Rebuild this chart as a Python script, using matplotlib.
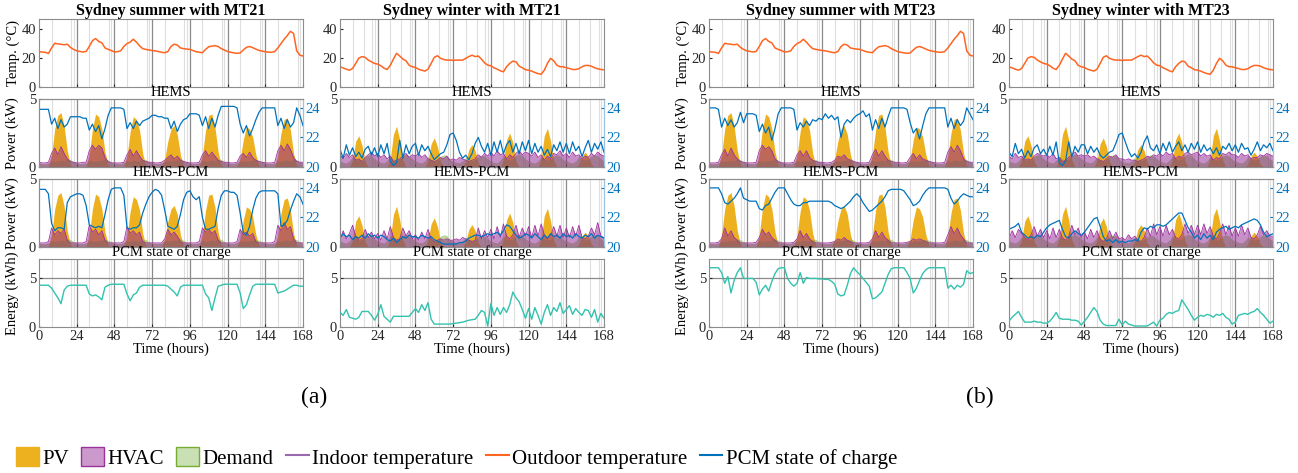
import numpy as np
import matplotlib
matplotlib.use('Agg')
import matplotlib.pyplot as plt
from matplotlib.patches import Patch
from matplotlib.lines import Line2D

plt.rcParams['font.family'] = ['Liberation Serif', 'DejaVu Serif']

# time grid (hours), one value every 2 hours
hours = np.arange(0, 169, 2)

# outdoor temperature (degC)
temp_summer = [
    24.4, 24.2, 24.0, 23.2, 27.0, 30.2, 29.8, 29.5, 29.2, 29.6, 27.4, 26.0,
    25.0, 24.6, 24.2, 24.6, 28.0, 32.0, 33.5, 31.5, 30.5, 27.0, 26.0, 25.2,
    24.2, 24.4, 25.0, 28.0, 30.0, 31.0, 33.0, 31.0, 28.5, 26.5, 26.0, 25.6,
    25.2, 25.0, 24.5, 24.0, 23.7, 24.5, 28.0, 29.6, 29.0, 27.0, 26.5, 26.2,
    26.0, 25.2, 24.4, 24.0, 23.7, 26.0, 27.8, 28.2, 28.6, 28.0, 26.5, 25.5,
    24.5, 24.0, 23.6, 23.3, 23.5, 25.6, 27.4, 28.0, 27.2, 26.2, 25.3, 24.8,
    24.4, 24.1, 24.0, 24.5, 27.0, 30.0, 33.0, 35.5, 38.5, 37.0, 25.0, 22.0,
    21.4]
temp_winter = [
    14.0, 13.2, 12.3, 11.6, 12.8, 16.3, 20.0, 21.0, 20.5, 18.6, 17.4, 16.3,
    15.8, 14.7, 13.0, 12.1, 15.0, 19.3, 23.3, 21.4, 19.3, 18.1, 15.0, 14.0,
    13.5, 12.3, 11.6, 11.0, 12.3, 16.3, 20.5, 21.6, 19.8, 19.0, 18.6, 18.6,
    18.4, 18.6, 18.6, 18.6, 19.8, 21.0, 22.0, 21.0, 21.4, 19.3, 16.7, 15.1,
    14.7, 13.3, 12.3, 11.2, 10.5, 14.0, 16.3, 17.9, 17.4, 14.4, 13.3, 12.0,
    11.6, 11.0, 10.0, 9.3, 8.8, 11.6, 16.3, 19.8, 18.1, 15.1, 14.0, 14.0,
    13.3, 12.8, 12.1, 12.1, 12.6, 14.0, 14.9, 14.9, 14.4, 13.3, 12.6, 12.1,
    11.9]

# PV generation (kW)
pv_summer = [
    0, 0, 0, 0.05, 0.9, 2.8, 3.8, 4.0, 3.0, 1.2, 0.15, 0,
    0, 0, 0, 0.05, 0.9, 2.8, 3.9, 3.7, 2.8, 1.1, 0.15, 0,
    0, 0, 0, 0.05, 0.8, 2.6, 3.7, 3.5, 2.7, 1.0, 0.1, 0,
    0, 0, 0, 0.05, 0.6, 1.9, 2.8, 3.05, 2.4, 0.9, 0.1, 0,
    0, 0, 0, 0.05, 0.9, 2.7, 3.8, 3.9, 2.9, 1.1, 0.15, 0,
    0, 0, 0, 0.05, 0.6, 2.0, 2.95, 2.8, 2.2, 0.9, 0.1, 0,
    0, 0, 0, 0.05, 0.8, 2.5, 3.5, 3.6, 2.7, 1.0, 0.1, 0,
    0]
pv_winter = [
    0, 0, 0, 0, 0.5, 1.9, 2.3, 1.6, 0.4, 0, 0, 0,
    0, 0, 0, 0, 0.6, 2.4, 3.0, 2.0, 0.5, 0, 0, 0,
    0, 0, 0, 0, 0.5, 1.7, 2.15, 1.5, 0.4, 0, 0, 0,
    0, 0, 0, 0, 0.4, 1.3, 1.65, 1.2, 0.3, 0, 0, 0,
    0, 0, 0, 0, 0.5, 2.0, 2.5, 1.8, 0.4, 0, 0, 0,
    0, 0, 0, 0, 0.6, 2.3, 2.85, 1.9, 0.5, 0, 0, 0,
    0, 0, 0, 0, 0.2, 0.8, 1.1, 0.8, 0.2, 0, 0, 0,
    0]

# household demand (kW)
demand_summer = [
    0.30, 0.25, 0.25, 0.30, 0.45, 0.40, 0.45, 0.50, 0.45, 0.60, 0.55, 0.40,
    0.30, 0.25, 0.25, 0.30, 0.50, 0.40, 0.45, 0.45, 0.50, 0.60, 0.50, 0.40,
    0.30, 0.25, 0.25, 0.35, 0.45, 0.40, 0.50, 0.45, 0.45, 0.55, 0.55, 0.40,
    0.30, 0.25, 0.25, 0.30, 0.45, 0.45, 0.45, 0.50, 0.50, 0.60, 0.50, 0.35,
    0.30, 0.25, 0.25, 0.30, 0.50, 0.40, 0.45, 0.50, 0.45, 0.60, 0.55, 0.40,
    0.30, 0.25, 0.25, 0.35, 0.45, 0.40, 0.45, 0.45, 0.50, 0.55, 0.50, 0.40,
    0.30, 0.25, 0.25, 0.30, 0.45, 0.40, 0.50, 0.50, 0.45, 0.60, 0.55, 0.40,
    0.30]
demand_winter = [
    0.45, 0.35, 0.30, 0.45, 0.75, 0.60, 0.50, 0.55, 0.80, 0.90, 0.85, 0.60,
    0.45, 0.35, 0.30, 0.50, 0.80, 0.60, 0.50, 0.60, 0.85, 0.95, 0.80, 0.60,
    0.45, 0.35, 0.30, 0.45, 0.75, 0.55, 0.50, 0.55, 0.80, 0.90, 0.85, 0.55,
    0.40, 0.35, 0.30, 0.45, 0.70, 0.60, 0.50, 0.55, 0.75, 0.90, 0.80, 0.60,
    0.45, 0.35, 0.30, 0.50, 0.80, 0.60, 0.50, 0.60, 0.85, 0.95, 0.85, 0.60,
    0.45, 0.35, 0.30, 0.45, 0.75, 0.60, 0.50, 0.55, 0.80, 0.90, 0.80, 0.55,
    0.45, 0.35, 0.30, 0.45, 0.75, 0.60, 0.50, 0.55, 0.80, 0.90, 0.85, 0.60,
    0.45]

# HVAC power (kW)
hvac_s21_hems = [
    0.35, 0.3, 0.3, 0.35, 1.0, 1.4, 0.9, 1.5, 1.0, 0.6, 0.4, 0.35,
    0.3, 0.3, 0.35, 0.35, 1.2, 1.6, 1.3, 1.6, 1.4, 0.7, 0.4, 0.3,
    0.3, 0.3, 0.3, 0.35, 0.9, 1.3, 0.8, 1.2, 0.8, 0.5, 0.4, 0.35,
    0.35, 0.3, 0.3, 0.35, 0.5, 0.7, 0.9, 0.6, 0.8, 0.5, 0.4, 0.35,
    0.3, 0.3, 0.3, 0.35, 0.9, 1.2, 0.8, 1.1, 0.8, 0.5, 0.4, 0.35,
    0.35, 0.3, 0.3, 0.35, 0.8, 1.0, 0.7, 1.1, 0.7, 0.5, 0.4, 0.35,
    0.3, 0.3, 0.3, 0.35, 1.2, 1.6, 1.2, 1.7, 1.3, 0.7, 0.4, 0.35,
    0.35]
hvac_s21_pcm = [
    0.3, 0.3, 0.3, 0.4, 1.4, 0.9, 1.2, 1.0, 1.3, 0.5, 0.3, 0.3,
    0.3, 0.3, 0.3, 0.4, 1.6, 1.1, 1.3, 0.9, 1.2, 0.5, 0.3, 0.3,
    0.3, 0.3, 0.3, 0.4, 1.5, 1.0, 1.2, 0.9, 1.1, 0.4, 0.3, 0.3,
    0.3, 0.3, 0.3, 0.3, 0.6, 1.3, 0.9, 1.1, 0.8, 0.4, 0.3, 0.3,
    0.3, 0.3, 0.3, 0.4, 1.4, 1.1, 1.3, 1.0, 1.2, 0.5, 0.3, 0.3,
    0.3, 0.3, 0.3, 0.4, 1.3, 0.9, 1.1, 0.8, 1.0, 0.4, 0.3, 0.3,
    0.3, 0.3, 0.3, 0.4, 1.6, 1.2, 1.8, 1.3, 1.5, 0.6, 0.3, 0.3,
    0.3]
hvac_w21_hems = [
    0.9, 0.6, 1.0, 0.7, 0.9, 0.5, 0.6, 0.4, 0.7, 0.9, 1.1, 0.8,
    1.0, 0.7, 0.9, 0.6, 0.8, 0.4, 0.5, 0.6, 0.8, 1.0, 0.7, 0.9,
    0.8, 1.0, 0.7, 0.9, 0.6, 0.5, 0.4, 0.5, 0.7, 0.6, 0.8, 0.5,
    0.6, 0.5, 0.7, 0.6, 0.5, 0.4, 0.5, 0.6, 0.9, 0.7, 1.0, 0.8,
    1.1, 0.8, 1.2, 0.9, 1.0, 0.6, 0.9, 0.7, 1.0, 1.2, 0.9, 1.1,
    1.0, 0.8, 1.1, 0.7, 0.9, 0.5, 0.8, 0.6, 1.0, 0.9, 1.2, 0.8,
    1.0, 0.7, 1.1, 0.8, 0.9, 0.6, 0.8, 0.7, 1.0, 0.8, 1.1, 0.9,
    0.8]
hvac_w21_pcm = [
    0.5, 1.2, 0.6, 1.0, 1.6, 0.8, 0.5, 0.6, 1.3, 0.7, 1.1, 0.6,
    1.0, 0.5, 1.2, 0.6, 1.5, 0.7, 0.5, 0.6, 1.4, 0.8, 1.2, 0.6,
    0.9, 0.5, 1.1, 0.6, 1.3, 0.6, 0.4, 0.5, 0.6, 0.5, 0.6, 0.5,
    0.5, 0.6, 0.5, 0.7, 0.6, 0.5, 0.4, 0.5, 1.4, 0.6, 1.2, 0.7,
    1.3, 0.6, 1.5, 0.7, 1.7, 0.8, 0.6, 0.9, 1.6, 0.7, 1.4, 0.8,
    1.5, 0.7, 1.6, 0.8, 1.7, 0.9, 0.6, 0.8, 1.5, 0.8, 1.6, 0.7,
    1.4, 0.7, 1.5, 0.8, 1.6, 0.7, 0.6, 0.8, 1.4, 0.9, 1.8, 0.8,
    0.7]
hvac_s23_hems = [
    0.3, 0.3, 0.3, 0.35, 0.9, 1.3, 0.8, 1.4, 0.9, 0.6, 0.4, 0.35,
    0.3, 0.3, 0.3, 0.35, 1.2, 1.6, 1.3, 1.5, 1.2, 0.6, 0.4, 0.3,
    0.3, 0.3, 0.3, 0.35, 0.9, 1.2, 0.8, 1.2, 0.7, 0.5, 0.4, 0.35,
    0.35, 0.3, 0.3, 0.35, 0.5, 0.8, 0.7, 0.9, 0.6, 0.5, 0.4, 0.35,
    0.3, 0.3, 0.3, 0.35, 0.9, 1.3, 0.8, 1.2, 0.8, 0.5, 0.4, 0.35,
    0.35, 0.3, 0.3, 0.35, 0.7, 1.0, 0.6, 0.9, 0.6, 0.5, 0.4, 0.35,
    0.3, 0.3, 0.3, 0.35, 1.1, 1.5, 1.1, 1.6, 1.2, 0.6, 0.4, 0.35,
    0.35]
hvac_s23_pcm = [
    0.3, 0.3, 0.3, 0.35, 0.6, 1.4, 0.8, 1.2, 0.7, 0.5, 0.3, 0.3,
    0.3, 0.3, 0.3, 0.35, 0.7, 1.3, 0.9, 1.1, 0.7, 0.5, 0.3, 0.3,
    0.3, 0.3, 0.3, 0.35, 0.6, 1.2, 0.7, 1.0, 0.6, 0.4, 0.3, 0.3,
    0.3, 0.3, 0.3, 0.35, 0.4, 0.6, 0.5, 0.7, 0.5, 0.4, 0.3, 0.3,
    0.3, 0.3, 0.3, 0.35, 0.6, 1.2, 0.7, 1.1, 0.7, 0.5, 0.3, 0.3,
    0.3, 0.3, 0.3, 0.35, 0.4, 0.6, 0.5, 0.6, 0.5, 0.4, 0.3, 0.3,
    0.3, 0.3, 0.3, 0.35, 0.9, 1.5, 1.0, 1.4, 0.9, 0.6, 0.3, 0.3,
    0.3]
hvac_w23_hems = [
    0.8, 0.6, 1.0, 0.7, 0.8, 0.5, 0.6, 0.5, 0.8, 1.0, 0.9, 0.8,
    0.9, 0.7, 1.0, 0.6, 0.7, 0.4, 0.5, 0.7, 0.9, 1.1, 0.8, 0.9,
    0.8, 0.9, 0.7, 0.8, 0.6, 0.5, 0.4, 0.6, 0.8, 0.7, 0.9, 0.6,
    0.6, 0.5, 0.6, 0.5, 0.5, 0.4, 0.5, 0.6, 0.8, 0.7, 0.9, 0.8,
    1.0, 0.8, 1.1, 0.9, 1.0, 0.6, 0.8, 0.7, 1.0, 1.1, 0.9, 1.0,
    1.1, 0.8, 1.0, 0.8, 0.9, 0.5, 0.7, 0.6, 1.0, 0.9, 1.1, 0.9,
    0.9, 0.7, 1.0, 0.8, 0.9, 0.6, 0.7, 0.7, 0.9, 0.8, 1.0, 0.9,
    0.8]
hvac_w23_pcm = [
    0.6, 1.2, 0.7, 1.3, 1.0, 0.7, 0.5, 0.9, 1.5, 0.8, 1.3, 0.7,
    1.2, 0.6, 1.4, 0.7, 1.3, 0.7, 0.5, 0.8, 1.6, 0.9, 1.4, 0.7,
    1.1, 0.6, 1.3, 0.7, 1.2, 0.6, 0.4, 0.6, 1.2, 0.6, 1.1, 0.6,
    0.7, 0.5, 0.9, 0.6, 0.8, 0.5, 0.4, 0.7, 1.4, 0.8, 1.7, 0.9,
    1.5, 0.8, 1.6, 0.9, 1.3, 0.7, 0.6, 0.9, 1.7, 1.0, 1.6, 0.9,
    1.6, 0.9, 1.7, 1.0, 1.5, 0.8, 0.6, 1.0, 1.7, 0.9, 1.6, 0.8,
    1.4, 0.8, 1.6, 0.9, 1.4, 0.7, 0.6, 0.9, 1.5, 0.9, 1.2, 0.8,
    0.8]

# indoor temperature (degC, right axis)
tin_s21_hems = [
    23.9, 23.9, 23.9, 23.9, 22.9, 23.3, 22.6, 23.2, 22.7, 22.9, 23.4, 23.4,
    23.4, 23.4, 23.3, 23.3, 22.5, 22.9, 22.4, 22.8, 21.9, 22.6, 23.5, 24.0,
    24.0, 24.0, 24.0, 23.9, 22.6, 23.0, 22.6, 23.1, 22.8, 23.1, 23.2, 23.3,
    23.5, 23.5, 23.4, 23.4, 23.3, 23.3, 22.6, 23.1, 22.4, 22.9, 23.2, 23.3,
    23.6, 23.6, 23.6, 23.5, 22.8, 23.4, 22.6, 23.3, 22.7, 23.5, 24.1, 24.1,
    24.1, 24.1, 24.1, 24.0, 22.9, 22.3, 22.8, 22.1, 22.6, 23.2, 23.7, 24.0,
    24.0, 24.0, 24.0, 24.0, 22.8, 23.3, 22.6, 23.2, 22.7, 23.0, 24.0, 23.5,
    22.8]
tin_s21_pcm = [
    23.9, 23.9, 23.9, 23.6, 21.6, 21.1, 21.3, 21.3, 21.2, 23.0, 23.4, 23.5,
    23.6, 23.6, 23.5, 22.8, 21.5, 21.4, 21.3, 21.4, 21.3, 22.2, 23.2, 23.9,
    24.0, 24.0, 24.0, 23.5, 21.3, 21.2, 21.3, 21.3, 21.5, 22.3, 22.9, 23.4,
    23.7, 23.9, 23.8, 23.5, 22.5, 21.4, 21.3, 21.2, 21.4, 22.2, 23.2, 23.7,
    23.8, 23.4, 23.2, 23.4, 22.0, 21.2, 21.2, 21.3, 21.4, 22.6, 23.5, 23.8,
    23.8, 23.7, 23.7, 23.5, 22.3, 21.0, 20.8, 21.4, 22.5, 23.3, 23.7, 23.8,
    23.8, 23.8, 23.8, 23.8, 23.6, 21.4, 21.5, 21.8, 22.5, 23.1, 23.6, 23.4,
    22.9]
tin_w21_hems = [
    21.2, 20.6, 21.5, 20.8, 21.3, 20.7, 21.0, 20.6, 21.2, 21.4, 20.8, 21.3,
    20.7, 21.5, 20.9, 21.6, 20.4, 20.1, 20.3, 21.8, 20.6, 21.5, 20.9, 21.4,
    21.6, 20.8, 21.5, 21.1, 21.4, 20.9, 20.5, 20.7, 20.9, 21.0, 21.5, 22.2,
    22.3, 21.8, 21.0, 20.6, 20.8, 20.5, 20.9, 21.6, 22.0, 21.4, 21.0, 21.6,
    20.8, 21.7, 21.0, 21.8, 20.9, 21.5, 21.8, 21.0, 21.6, 20.9, 21.7, 21.1,
    21.8, 20.9, 21.6, 21.0, 21.4, 20.8, 21.2, 20.7, 21.5, 21.1, 21.7, 21.0,
    21.6, 20.9, 21.7, 21.1, 21.4, 20.7, 21.3, 21.8, 21.0, 21.6, 21.2, 21.7,
    21.0]
tin_w21_pcm = [
    20.6, 20.9, 20.7, 20.8, 20.5, 20.7, 20.6, 20.8, 20.6, 20.9, 20.7, 20.8,
    20.6, 20.8, 20.7, 20.5, 20.4, 20.6, 20.3, 20.5, 20.7, 20.6, 20.8, 20.7,
    20.7, 20.6, 20.8, 20.7, 20.6, 20.7, 20.5, 20.4, 20.3, 20.2, 20.2, 20.2,
    20.2, 20.2, 20.3, 20.3, 20.4, 20.6, 20.7, 20.8, 20.8, 20.7, 20.8, 20.9,
    20.8, 20.9, 21.0, 20.8, 21.1, 21.5, 21.4, 21.1, 20.8, 20.6, 20.7, 20.9,
    20.8, 20.6, 20.9, 20.7, 20.5, 20.8, 20.6, 20.9, 20.7, 20.8, 20.6, 20.9,
    20.7, 20.8, 20.6, 20.9, 20.7, 20.6, 20.8, 20.7, 20.9, 20.6, 20.8, 20.7,
    20.6]
tin_s23_hems = [
    24.0, 24.0, 24.0, 23.9, 22.7, 23.3, 22.8, 23.2, 22.7, 23.0, 23.7, 23.0,
    23.6, 23.6, 23.6, 23.5, 22.4, 22.9, 22.3, 22.7, 21.8, 22.6, 23.6, 24.0,
    24.0, 24.0, 24.0, 23.9, 22.5, 23.0, 22.7, 23.1, 22.8, 23.2, 23.1, 23.3,
    23.2, 23.6, 23.3, 23.5, 23.2, 23.4, 22.0, 22.9, 23.2, 23.0, 23.3, 23.5,
    23.6, 23.8, 23.4, 23.6, 22.5, 23.2, 22.6, 23.3, 22.7, 23.4, 24.0, 24.0,
    24.0, 24.0, 24.0, 23.9, 23.0, 22.3, 22.6, 21.9, 22.8, 23.6, 24.0, 24.0,
    24.0, 24.0, 24.0, 24.0, 22.7, 23.3, 22.6, 23.2, 22.8, 23.1, 24.0, 23.6,
    23.2]
tin_s23_pcm = [
    24.0, 24.0, 24.0, 24.0, 23.6, 23.0, 22.9, 23.1, 23.3, 23.6, 24.0, 23.3,
    23.2, 23.1, 23.1, 23.1, 22.6, 22.5, 22.8, 22.9, 23.3, 23.7, 24.0, 24.0,
    24.0, 23.6, 23.2, 22.9, 22.8, 22.8, 23.0, 23.0, 23.1, 23.1, 23.1, 23.1,
    23.1, 23.1, 23.1, 23.0, 22.8, 22.7, 22.6, 22.7, 22.9, 23.1, 23.4, 23.6,
    23.4, 23.0, 22.7, 22.4, 22.5, 22.7, 22.9, 23.1, 23.4, 23.8, 23.9, 23.9,
    23.9, 23.9, 23.8, 23.5, 23.2, 22.8, 22.9, 23.1, 23.5, 23.8, 24.0, 24.0,
    24.0, 24.0, 24.0, 24.0, 23.9, 23.3, 22.9, 23.1, 23.4, 23.6, 23.5, 23.4,
    23.4]
tin_w23_hems = [
    21.0, 20.7, 21.6, 20.9, 21.2, 20.6, 21.1, 20.7, 21.3, 21.5, 20.9, 21.2,
    20.8, 21.4, 20.8, 21.7, 20.3, 20.1, 20.4, 21.7, 20.7, 21.4, 21.0, 21.5,
    21.5, 20.9, 21.4, 21.0, 21.3, 20.8, 20.6, 20.8, 21.0, 21.1, 21.6, 22.2,
    22.3, 21.7, 21.1, 20.7, 20.9, 20.6, 21.0, 21.7, 22.1, 21.3, 21.1, 21.5,
    20.9, 21.6, 21.1, 21.7, 21.0, 21.4, 21.7, 21.1, 21.5, 21.0, 21.6, 21.2,
    21.7, 21.0, 21.5, 21.1, 21.3, 20.9, 21.3, 20.8, 21.4, 21.2, 21.6, 21.1,
    21.5, 21.0, 21.6, 21.2, 21.3, 20.8, 21.2, 21.7, 21.1, 21.5, 21.3, 21.6,
    21.1]
tin_w23_pcm = [
    21.2, 21.3, 21.4, 21.6, 21.0, 20.8, 20.6, 20.7, 20.6, 20.8, 20.7, 21.0,
    21.3, 21.5, 21.6, 21.7, 21.8, 21.2, 20.7, 20.6, 20.9, 21.1, 20.9, 20.8,
    21.0, 21.3, 21.6, 21.9, 22.0, 21.4, 20.7, 20.4, 20.5, 20.3, 20.5, 20.3,
    20.4, 20.3, 20.4, 20.4, 20.5, 20.4, 21.0, 21.3, 21.2, 21.4, 21.3, 21.5,
    21.5, 21.4, 21.5, 21.7, 21.9, 22.1, 22.3, 22.3, 21.8, 21.3, 21.0, 20.6,
    20.8, 20.5, 20.9, 20.6, 20.8, 20.5, 21.0, 21.2, 21.3, 21.4, 21.2, 21.3,
    21.4, 21.3, 21.5, 21.6, 21.7, 21.8, 21.9, 21.8, 21.5, 21.0, 20.7, 20.8,
    20.9]

# PCM state of charge (kWh)
soc_s21 = [
    4.3, 4.3, 4.3, 4.3, 4.0, 3.5, 3.0, 2.4, 3.8, 4.2, 4.3, 4.3,
    4.3, 4.3, 4.3, 4.3, 3.4, 3.2, 3.3, 3.1, 2.8, 4.1, 4.3, 4.4,
    4.4, 4.4, 4.4, 4.4, 3.4, 2.7, 3.3, 3.5, 4.1, 4.3, 4.3, 4.3,
    4.3, 4.3, 4.3, 4.3, 4.3, 4.2, 3.9, 3.6, 3.2, 4.1, 4.3, 4.3,
    4.3, 4.3, 4.3, 4.3, 4.3, 3.4, 3.0, 1.7, 3.0, 4.2, 4.3, 4.4,
    4.4, 4.4, 4.4, 4.4, 3.5, 1.9, 2.3, 3.3, 4.2, 4.4, 4.4, 4.4,
    4.4, 4.4, 4.4, 4.4, 3.5, 3.6, 3.7, 3.9, 4.1, 4.3, 4.3, 4.2,
    4.2]
soc_w21 = [
    1.5, 1.2, 1.8, 1.0, 0.9, 0.8, 1.0, 1.6, 1.6, 1.6, 1.2, 0.7,
    1.3, 2.3, 1.1, 0.8, 0.5, 1.1, 1.1, 1.1, 1.1, 1.1, 1.1, 1.5,
    1.9, 1.5, 2.3, 1.7, 2.5, 0.8, 0.3, 0.3, 0.3, 0.3, 0.3, 0.3,
    0.35, 0.4, 0.45, 0.5, 0.6, 0.7, 0.75, 0.8, 1.2, 1.7, 1.5, 0.1,
    2.4, 1.2, 2.0, 1.3, 2.0, 1.5, 2.3, 3.6, 3.0, 2.6, 1.8, 0.9,
    1.9, 0.8, 2.0, 1.2, 0.3, 1.5, 2.3, 1.2, 2.0, 1.6, 2.5, 1.4,
    1.8, 2.2, 1.3, 1.9, 1.5, 1.2, 1.8, 1.7, 1.0, 1.8, 0.5, 1.4,
    0.9]
soc_s23 = [
    6.1, 6.1, 6.1, 6.1, 5.6, 4.5, 5.2, 3.5, 4.8, 5.6, 6.1, 5.0,
    5.0, 5.0, 5.0, 4.6, 3.3, 3.9, 4.3, 3.7, 4.7, 5.5, 6.0, 6.1,
    6.1, 5.0, 4.5, 4.2, 4.5, 5.6, 4.5, 5.1, 5.0, 5.0, 5.0, 4.95,
    4.95, 4.9, 4.9, 4.7, 4.4, 3.4, 3.2, 3.3, 4.3, 5.5, 6.1, 5.7,
    5.4, 5.0, 4.6, 4.2, 2.9, 3.0, 3.3, 3.6, 4.5, 5.4, 6.0, 6.1,
    6.1, 6.1, 6.1, 5.6, 5.0, 3.5, 4.0, 4.8, 5.5, 5.9, 6.1, 6.1,
    6.1, 6.1, 6.1, 6.1, 4.0, 4.3, 3.9, 4.3, 4.1, 4.4, 5.8, 5.5,
    5.6]
soc_w23 = [
    0.6, 1.0, 1.3, 1.6, 1.0, 0.5, 0.5, 0.5, 0.6, 0.5, 0.5, 0.4,
    0.4, 0.6, 1.0, 1.5, 0.9, 0.8, 0.8, 0.8, 0.7, 0.7, 0.6, 0.2,
    0.6, 1.0, 1.5, 2.0, 1.6, 0.7, 0.3, 0.15, 0.15, 0.15, 0.15, 0.8,
    0.2, 0.6, 0.3, 0.2, 0.1, 0.1, 0.1, 0.1, 0.1, 0.3, 0.5, 0.1,
    0.7, 0.9, 1.3, 1.5, 1.4, 1.6, 1.7, 2.8, 2.3, 1.8, 1.2, 0.7,
    1.0, 1.2, 1.1, 1.3, 1.2, 1.0, 1.3, 1.2, 1.4, 1.0, 0.8, 0.3,
    0.5, 1.2, 1.3, 1.4, 1.3, 1.5, 1.6, 1.9, 1.5, 1.2, 0.8, 0.4,
    0.6]

titles = ['Sydney summer with MT21', 'Sydney winter with MT21',
          'Sydney summer with MT23', 'Sydney winter with MT23']
# event hours inside each day (light grid lines)
marks_summer = [8, 20.5, 22]
marks_winter = [8, 15, 20.5, 22]

columns = [
    (temp_summer, pv_summer, demand_summer, hvac_s21_hems, tin_s21_hems, hvac_s21_pcm, tin_s21_pcm, soc_s21, marks_summer),
    (temp_winter, pv_winter, demand_winter, hvac_w21_hems, tin_w21_hems, hvac_w21_pcm, tin_w21_pcm, soc_w21, marks_winter),
    (temp_summer, pv_summer, demand_summer, hvac_s23_hems, tin_s23_hems, hvac_s23_pcm, tin_s23_pcm, soc_s23, marks_summer),
    (temp_winter, pv_winter, demand_winter, hvac_w23_hems, tin_w23_hems, hvac_w23_pcm, tin_w23_pcm, soc_w23, marks_winter),
]

C_PV = '#EDB120'
C_HVAC = '#8F2090'
C_DEM = '#77AC30'
C_TIN = '#0072BD'
C_TOUT = '#FF6420'
C_SOC = '#33C2AE'
C_AX = '#8c8c8c'
LBL = 10.5
TICK = 10.5

W, H = 1298, 473
fig = plt.figure(figsize=(W / 100, H / 100), dpi=100)

col_left = [39, 340, 709, 1009]
col_w = 264
row_top = [19, 99, 179, 259]
row_h = 68


def make_ax(left, top):
    ax = fig.add_axes([left / W, (H - top - row_h) / H, col_w / W, row_h / H])
    ax.set_xlim(0, 168)
    ax.set_xticks(range(0, 169, 24))
    ax.tick_params(direction='in', length=2.5, labelsize=TICK, colors='#262626', pad=2)
    for s in ax.spines.values():
        s.set_color(C_AX)
        s.set_linewidth(0.8)
    return ax


def grid_lines(ax, marks):
    for d in range(7):
        for m in marks:
            ax.axvline(24 * d + m, color='#dedede', lw=0.8, zorder=0)
    for d in range(1, 7):
        ax.axvline(24 * d, color='#8a8a8a', lw=0.9, zorder=0)


def power_panel(ax, pv, dem, hvac, tin, title):
    ax.fill_between(hours, pv, color=C_PV, lw=0, zorder=2)
    ax.fill_between(hours, dem, color=C_DEM, alpha=0.5, lw=0, zorder=3)
    ax.fill_between(hours, hvac, color=C_HVAC, alpha=0.5, lw=0, zorder=4)
    ax.plot(hours, hvac, color='#A0309E', lw=0.6, zorder=5)
    ax.set_ylim(0, 5)
    ax.set_yticks([0, 5])
    ax.set_xticklabels([])
    ax.set_title(title, fontsize=LBL, pad=1.5)
    ax2 = ax.twinx()
    ax2.plot(hours, tin, color=C_TIN, lw=0.9)
    ax2.set_ylim(20, 24.6)
    ax2.set_yticks([20, 22, 24])
    ax2.tick_params(direction='in', length=2.5, labelsize=TICK, colors=C_TIN, pad=2)
    for s in ax2.spines.values():
        s.set_color(C_AX)
        s.set_linewidth(0.8)
    ax2.spines['right'].set_color('#9cc3e0')
    return ax2


for i, (tout, pv, dem, hv1, ti1, hv2, ti2, soc, marks) in enumerate(columns):
    left = col_left[i]
    # outdoor temperature
    ax = make_ax(left, row_top[0])
    grid_lines(ax, marks)
    ax.plot(hours, tout, color=C_TOUT, lw=1.1)
    ax.set_ylim(0, 47)
    ax.set_yticks([0, 20, 40])
    ax.set_xticklabels([])
    ax.set_title(titles[i], fontsize=11.5, fontweight='bold', pad=2)
    if i in (0, 2):
        ax.set_ylabel('Temp. (°C)', fontsize=LBL, labelpad=1)

    # HEMS and HEMS-PCM power
    ax = make_ax(left, row_top[1])
    grid_lines(ax, marks)
    power_panel(ax, pv, dem, hv1, ti1, 'HEMS')
    if i in (0, 2):
        ax.set_ylabel('Power (kW)', fontsize=LBL, labelpad=7)
    ax = make_ax(left, row_top[2])
    grid_lines(ax, marks)
    power_panel(ax, pv, dem, hv2, ti2, 'HEMS-PCM')
    if i in (0, 2):
        ax.set_ylabel('Power (kW)', fontsize=LBL, labelpad=7)

    # PCM state of charge
    ax = make_ax(left, row_top[3])
    grid_lines(ax, marks)
    ax.axhline(5, color='#8a8a8a', lw=0.9, zorder=1)
    ax.plot(hours, soc, color=C_SOC, lw=1.0, zorder=3)
    ax.set_ylim(0, 7)
    ax.set_yticks([0, 5])
    ax.set_title('PCM state of charge', fontsize=LBL, pad=1.5)
    ax.set_xlabel('Time (hours)', fontsize=LBL, labelpad=0)
    if i in (0, 2):
        ax.set_ylabel('Energy (kWh)', fontsize=LBL, labelpad=7)

fig.text(314 / W, 1 - 397 / H, '(a)', fontsize=17, ha='center', va='center')
fig.text(980 / W, 1 - 397 / H, '(b)', fontsize=17, ha='center', va='center')

handles = [
    Patch(facecolor=C_PV, edgecolor=C_PV, label='PV'),
    Patch(facecolor='#CC99CC', edgecolor='#993399', label='HVAC'),
    Patch(facecolor='#C8E0B4', edgecolor='#77AC30', label='Demand'),
    Line2D([0], [0], color='#9B6AAE', lw=1.5, label='Indoor temperature'),
    Line2D([0], [0], color=C_TOUT, lw=1.5, label='Outdoor temperature'),
    Line2D([0], [0], color=C_TIN, lw=1.5, label='PCM state of charge'),
]
fig.legend(handles=handles, loc='center left', bbox_to_anchor=(0.006, 1 - 458 / H),
           ncol=6, frameon=False, fontsize=15, handlelength=1.1, handleheight=1.0,
           handletextpad=0.15, columnspacing=0.6, borderaxespad=0)

fig.savefig('out.png', dpi=100)
